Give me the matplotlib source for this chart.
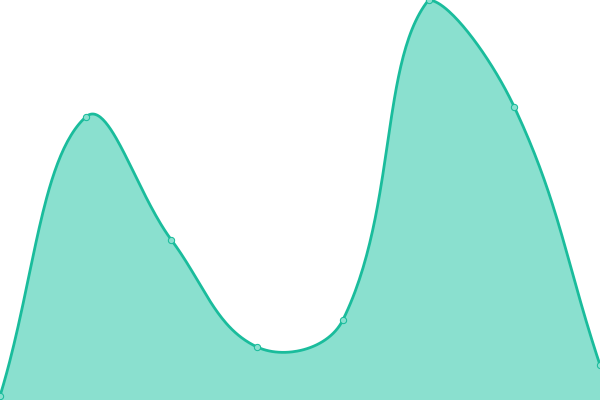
import numpy as np
import matplotlib
matplotlib.use("Agg")
from matplotlib import pyplot as plt

# data
x_vals = [0, 1, 2, 3, 4, 5, 6, 7]
y_vals = [4, 283, 160, 53, 80, 400, 293, 35]

line_color = "#1abc9c"
fill_color = "#8ae0cf"

W, H = 600, 400
tension = 0.4


def smooth(xs, ys, n=60):
    # tension spline with control points kept inside the plot area
    sx = W / (xs[-1] - xs[0])
    sy = H / 400.0
    P = np.column_stack([np.array(xs, float) * sx, np.array(ys, float) * sy])
    k = len(P)
    cp_prev = np.zeros_like(P)
    cp_next = np.zeros_like(P)
    for i in range(k):
        prev = P[i - 1] if i > 0 else P[i]
        nxt = P[i + 1] if i < k - 1 else P[i]
        d01 = np.linalg.norm(P[i] - prev)
        d12 = np.linalg.norm(nxt - P[i])
        tot = d01 + d12
        s01 = d01 / tot if tot else 0
        s12 = d12 / tot if tot else 0
        cp_prev[i] = P[i] - tension * s01 * (nxt - prev)
        cp_next[i] = P[i] + tension * s12 * (nxt - prev)
    cp_prev[:, 0] = np.clip(cp_prev[:, 0], 0, W)
    cp_next[:, 0] = np.clip(cp_next[:, 0], 0, W)
    cp_prev[:, 1] = np.clip(cp_prev[:, 1], 0, H)
    cp_next[:, 1] = np.clip(cp_next[:, 1], 0, H)

    t = np.linspace(0, 1, n)[:, None]
    outx, outy = [], []
    for i in range(k - 1):
        p1, c1, c2, p2 = P[i], cp_next[i], cp_prev[i + 1], P[i + 1]
        pts = (1 - t) ** 3 * p1 + 3 * (1 - t) ** 2 * t * c1 + 3 * (1 - t) * t ** 2 * c2 + t ** 3 * p2
        outx.extend(pts[:, 0] / sx)
        outy.extend(pts[:, 1] / sy)
    return np.array(outx), np.array(outy)


fig = plt.figure(figsize=(6, 4), dpi=100)
ax = fig.add_axes([0, 0, 1, 1])

cx, cy = smooth(x_vals, y_vals)
ax.fill_between(cx, 0, cy, color=fill_color, linewidth=0)
ax.plot(cx, cy, color=line_color, linewidth=2.0)
ax.plot(x_vals, y_vals, linestyle="none", marker="o", markersize=4.5,
        markerfacecolor=fill_color, markeredgecolor=line_color, markeredgewidth=0.75)

ax.set_xlim(0, 7)
ax.set_ylim(0, 400)
ax.axis("off")

fig.savefig("out.png", dpi=100)
